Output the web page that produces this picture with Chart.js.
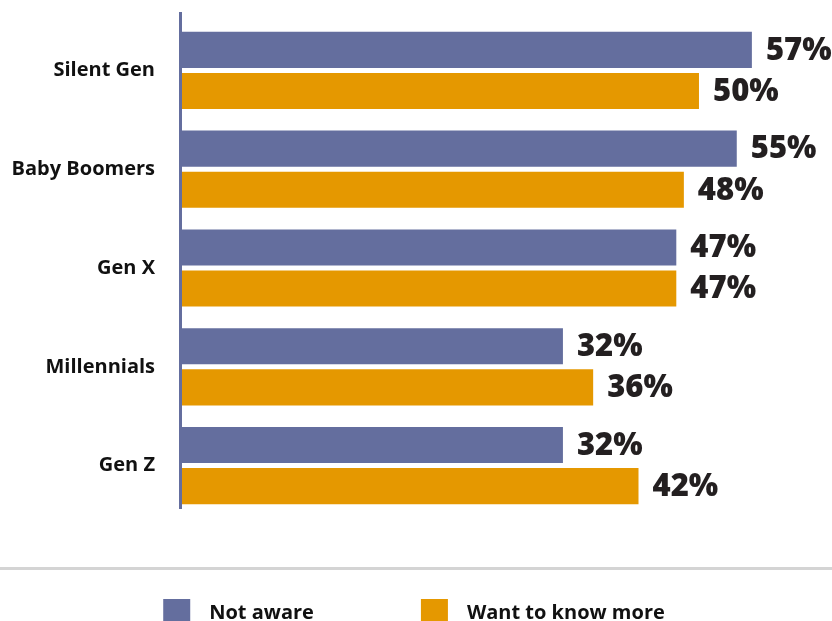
<!DOCTYPE html>
<html>
<head>
<meta charset="utf-8">
<script src="https://cdn.jsdelivr.net/npm/chart.js@4.4.1/dist/chart.umd.min.js"></script>
<style>
  html, body { margin: 0; padding: 0; background: #ffffff; overflow: hidden; }
  #wrap { position: relative; width: 832px; height: 621px; }
</style>
</head>
<body>
<div id="wrap"><canvas id="c"></canvas></div>
<script>
// ---- data ----
const categories = ["Silent Gen", "Baby Boomers", "Gen X", "Millennials", "Gen Z"];
const notAware = [57, 55, 47, 32, 32];
const wantToKnowMore = [50, 48, 47, 36, 42];
const seriesNames = ["Not aware", "Want to know more"];

// ---- style ----
const PURPLE = "#646e9e";
const ORANGE = "#e59800";
const X_MIN = -18.4;
const X_MAX = 67.6;
const FONT = "'Open Sans', 'DejaVu Sans', sans-serif";

const axisLinePlugin = {
  id: "axisLine",
  beforeDatasetsDraw(chart) {
    const { ctx, chartArea } = chart;
    ctx.save();
    ctx.fillStyle = PURPLE;
    ctx.fillRect(chartArea.left - 3, chartArea.top - 9, 3, chartArea.bottom - chartArea.top + 3);
    ctx.restore();
  }
};

const valueLabelPlugin = {
  id: "valueLabels",
  afterDatasetsDraw(chart) {
    const { ctx } = chart;
    ctx.save();
    ctx.font = "800 31px " + FONT;
    ctx.fillStyle = "#231f20";
    ctx.textAlign = "left";
    ctx.textBaseline = "middle";
    chart.data.datasets.forEach((ds, di) => {
      const meta = chart.getDatasetMeta(di);
      meta.data.forEach((bar, i) => {
        ctx.fillText(ds.data[i] + "%", bar.x + 14, bar.y + 1);
      });
    });
    ctx.restore();
  }
};

const legendPlugin = {
  id: "customLegend",
  afterDraw(chart) {
    const { ctx, width, chartArea } = chart;
    ctx.save();
    // separator line
    ctx.fillStyle = "#d4d4d4";
    ctx.fillRect(0, chartArea.bottom + 52, width, 3);
    // legend items
    ctx.font = "700 20px " + FONT;
    ctx.textBaseline = "middle";
    ctx.textAlign = "left";
    const box = 27, textGap = 19, itemGap = 107;
    const items = chart.data.datasets.map(ds => ({ label: ds.label, color: ds.backgroundColor, tw: ctx.measureText(ds.label).width }));
    let total = 0;
    items.forEach((it, i) => { total += box + textGap + it.tw + (i ? itemGap : 0); });
    let x = (width - total) / 2 - 2;
    const cy = chartArea.bottom + 97.5;
    items.forEach((it) => {
      ctx.fillStyle = it.color;
      ctx.fillRect(x, cy - box / 2, box, box);
      ctx.fillStyle = "#111111";
      ctx.fillText(it.label, x + box + textGap, cy + 1);
      x += box + textGap + it.tw + itemGap;
    });
    ctx.restore();
  }
};

new Chart(document.getElementById("c"), {
  type: "bar",
  data: {
    labels: categories,
    datasets: [
      { label: seriesNames[0], data: notAware, backgroundColor: PURPLE, base: X_MIN,
        barPercentage: 0.878, categoryPercentage: 0.832 },
      { label: seriesNames[1], data: wantToKnowMore, backgroundColor: ORANGE, base: X_MIN,
        barPercentage: 0.878, categoryPercentage: 0.832 }
    ]
  },
  options: {
    indexAxis: "y",
    responsive: true,
    maintainAspectRatio: false,
    animation: false,
    layout: { padding: { top: 21, left: 0, right: 0, bottom: 106 } },
    plugins: { legend: { display: false }, tooltip: { enabled: false } },
    scales: {
      x: { display: false, min: X_MIN, max: X_MAX },
      y: {
        grid: { display: false, drawTicks: false },
        border: { display: false },
        ticks: { color: "#111111", padding: 27, font: { family: FONT, size: 20, weight: "700" } },
        afterFit(scale) { scale.width = 182; scale.paddingTop = 0; scale.paddingBottom = 0; }
      }
    }
  },
  plugins: [axisLinePlugin, valueLabelPlugin, legendPlugin]
});
</script>
</body>
</html>
